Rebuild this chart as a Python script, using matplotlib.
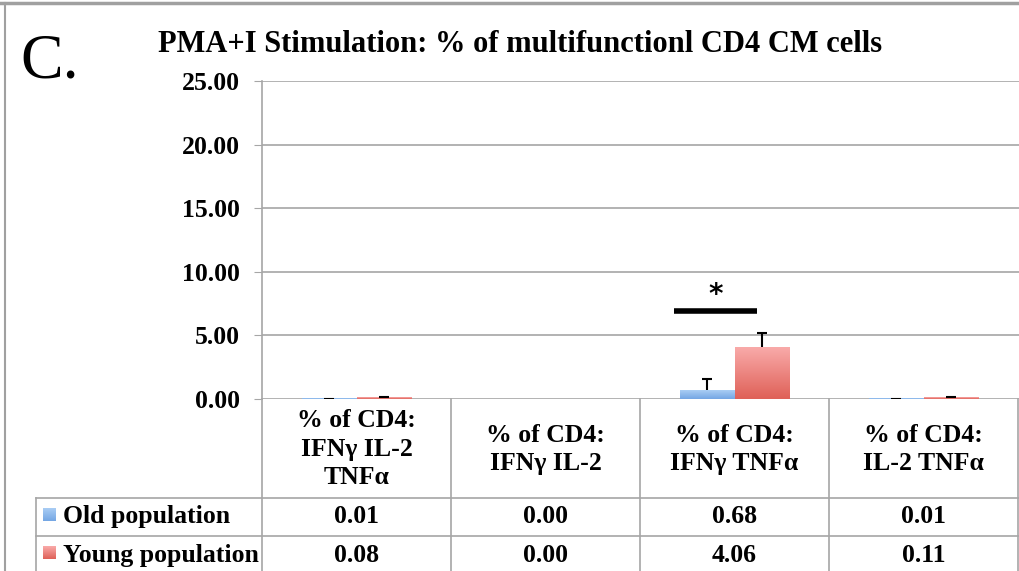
import numpy as np
import matplotlib
matplotlib.use('Agg')
import matplotlib.pyplot as plt
from matplotlib.colors import LinearSegmentedColormap
from matplotlib.lines import Line2D
from matplotlib.transforms import blended_transform_factory

plt.rcParams['font.family'] = ['Liberation Serif', 'DejaVu Serif']

# multifunctional CD4 central memory cells after PMA+ionomycin
categories = ['% of CD4:\nIFNγ IL-2\nTNFα', '% of CD4:\nIFNγ IL-2',
              '% of CD4:\nIFNγ TNFα', '% of CD4:\nIL-2 TNFα']
series = ['Old population', 'Young population']
oldValues = [0.01, 0.00, 0.68, 0.01]
youngValues = [0.08, 0.00, 4.06, 0.11]
oldErr = [0.01, 0.00, 0.90, 0.01]
youngErr = [0.06, 0.00, 1.10, 0.08]
yTicks = [0, 5, 10, 15, 20, 25]
sigCategory = 2
sigLevel = 6.9

blueMap = LinearSegmentedColormap.from_list('blue', ['#a9cdf4', '#74a6e4'])
redMap = LinearSegmentedColormap.from_list('red', ['#f9aaa9', '#df6158'])
gridColor = '#a6a6a6'

fig = plt.figure(figsize=(10.19, 5.71), dpi=100)
ax = fig.add_axes([262/1019, 172/571, 757/1019, 318/571])

x = np.arange(len(categories))
w = 0.29
grad = np.linspace(0, 1, 64).reshape(-1, 1)

def gradientBars(bars, cmap):
    for b in bars:
        h = b.get_height()
        if h <= 0:
            continue
        ax.imshow(grad, cmap=cmap, aspect='auto', zorder=3,
                  extent=(b.get_x(), b.get_x() + b.get_width(), 0, h))
        b.set_alpha(0)

def upperErrors(xs, vals, errs):
    # only the positive half of the error bar, with a cap on top
    xs, vals, errs = np.asarray(xs), np.asarray(vals), np.asarray(errs)
    keep = errs > 0
    xs, vals, tops = xs[keep], vals[keep], (vals + errs)[keep]
    ax.vlines(xs, vals, tops, color='black', lw=1.5, zorder=4)
    ax.hlines(tops, xs - 0.028, xs + 0.028, color='black', lw=1.5, zorder=4)

oldBars = ax.bar(x - w/2, oldValues, w, color=blueMap(0.5), zorder=3)
youngBars = ax.bar(x + w/2, youngValues, w, color=redMap(0.5), zorder=3)
gradientBars(oldBars, blueMap)
gradientBars(youngBars, redMap)
upperErrors(x - w/2, oldValues, oldErr)
upperErrors(x + w/2, youngValues, youngErr)

# significance marker over the IFNγ TNFα pair
ax.plot([sigCategory - 0.32, sigCategory + 0.12], [sigLevel, sigLevel],
        color='black', lw=4, solid_capstyle='butt', zorder=5)
ax.text(sigCategory - 0.1, sigLevel + 1.25, '*', ha='center', va='center',
        fontsize=20, family='DejaVu Sans', fontweight='bold')

ax.set_xlim(-0.5, 3.505)
ax.set_ylim(0, 25)
ax.set_yticks(yTicks)
ax.set_yticklabels(['%.2f' % t for t in yTicks], fontsize=18.5, fontweight='bold')
ax.tick_params(axis='y', length=6, color=gridColor, pad=10)
ax.set_xticks([])
ax.yaxis.grid(True, color=gridColor, lw=1.2, zorder=0)
ax.set_axisbelow(True)
for s in ['top', 'right', 'bottom']:
    ax.spines[s].set_visible(False)
ax.spines['left'].set_color(gridColor)
ax.spines['left'].set_linewidth(1.2)

fig.text(520/1019, 1 - 45/571, 'PMA+I Stimulation: % of multifunctionl CD4 CM cells',
         fontsize=22, fontweight='bold', ha='center', va='center')
fig.text(20/1019, 1 - 63/571, 'C.', fontsize=46, va='center', ha='left')

# data table under the axis
tr = blended_transform_factory(ax.transData, ax.transAxes)
rowLines = [-0.311, -0.431]
leftEdge = -1.696
bottom = -0.6

def tline(xs, ys):
    ax.add_line(Line2D(xs, ys, transform=tr, color=gridColor, lw=1.2, clip_on=False))

for edge in np.arange(-0.5, 4.0, 1.0):
    tline([edge, edge], [0, bottom])
tline([leftEdge, leftEdge], [rowLines[0], bottom])
for r in rowLines:
    tline([leftEdge, 3.505], [r, r])

for i, c in enumerate(categories):
    ax.text(i, -0.158, c, transform=tr, ha='center', va='center', fontsize=18.5,
            fontweight='bold', linespacing=1.3)
    ax.text(i, -0.371, '%.2f' % oldValues[i], transform=tr, ha='center',
            va='center', fontsize=18.5, fontweight='bold')
    ax.text(i, -0.491, '%.2f' % youngValues[i], transform=tr, ha='center',
            va='center', fontsize=18.5, fontweight='bold')

for yRow, name, cmap in zip([-0.371, -0.491], series, [blueMap, redMap]):
    pos = ax.transAxes.transform((0, yRow))
    fy = fig.transFigure.inverted().transform(pos)[1]
    sq = fig.add_axes([43/1019, fy - 4/571, 13/1019, 13/571])
    sq.imshow(grad, cmap=cmap, aspect='auto')
    sq.axis('off')
    ax.text(-1.555, yRow, name, transform=tr, ha='left', va='center',
            fontsize=18.5, fontweight='bold')

# outer frame of the panel
fig.add_artist(Line2D([0, 1], [1 - 3/571, 1 - 3/571], transform=fig.transFigure,
                      color='#a0a0a0', lw=2.5))
fig.add_artist(Line2D([5/1019, 5/1019], [0, 1 - 3/571], transform=fig.transFigure,
                      color='#a0a0a0', lw=1.5))

fig.savefig('out.png', dpi=100)
